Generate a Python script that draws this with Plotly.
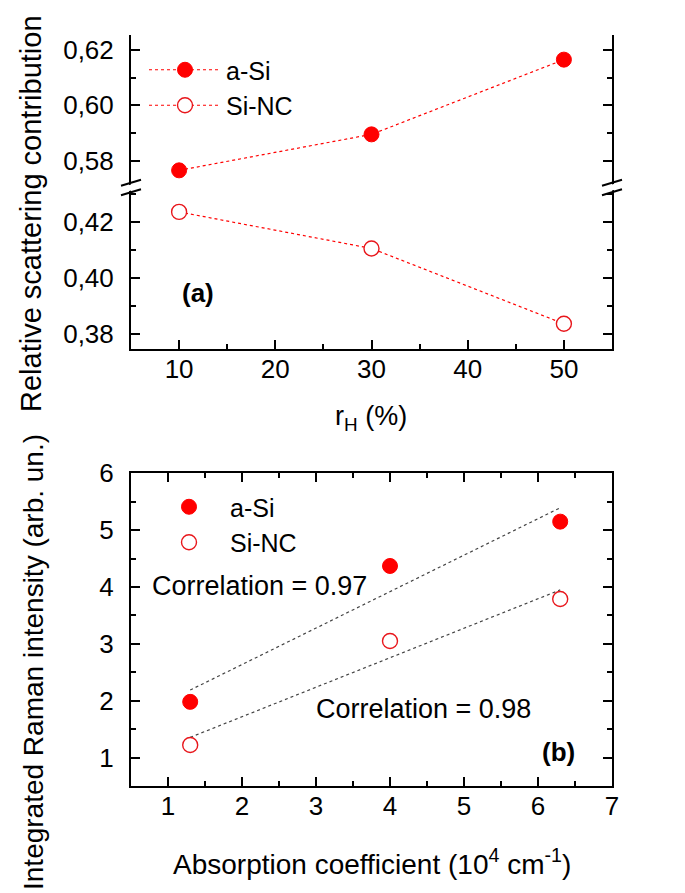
import numpy as np
import plotly.graph_objects as go

W, H = 685, 893


def px(x, y):
    return x / W, 1 - y / H


# ---------------- data ----------------
# Panel (a): relative scattering contribution vs r_H
rh = [10, 30, 50]
asi_a = [0.5765, 0.5895, 0.6165]
sinc_a = [0.4235, 0.4105, 0.3837]

# Panel (b): integrated Raman intensity vs absorption coefficient
alpha = [1.3, 4.0, 6.3]
asi_b = [1.98, 4.37, 5.15]
sinc_b = [1.22, 3.05, 3.79]

series_names = ["a-Si", "Si-NC"]
corr_labels = ["Correlation = 0.97", "Correlation = 0.98"]

xa_ticks = [10, 20, 30, 40, 50]
ya_up_ticks = [0.58, 0.60, 0.62]
ya_lo_ticks = [0.38, 0.40, 0.42]
xb_ticks = [1, 2, 3, 4, 5, 6, 7]
yb_ticks = [1, 2, 3, 4, 5, 6]

# linear fits (panel b)
fit_x = [min(alpha), max(alpha)]
fa = np.polyfit(alpha, asi_b, 1)
fs = np.polyfit(alpha, sinc_b, 1)
fit_asi = list(np.polyval(fa, fit_x))
fit_sinc = list(np.polyval(fs, fit_x))

FONT = "Liberation Sans, Arial, sans-serif"
RED = "#ff0000"

# ---------------- geometry ----------------
xl, xr = 131, 612
a_top, a_brk, a_bot = 35, 190, 348.5
b_top, b_bot = 473.3, 786

x_dom = [xl / W, xr / W]
ya_up_dom = [1 - a_brk / H, 1 - a_top / H]
ya_lo_dom = [1 - a_bot / H, 1 - a_brk / H]
yb_dom = [1 - b_bot / H, 1 - b_top / H]

fig = go.Figure()

# panel (a)
fig.add_trace(go.Scatter(
    x=rh, y=asi_a, name=series_names[0], xaxis="x", yaxis="y2",
    mode="lines+markers", legend="legend",
    line=dict(color=RED, width=1.2, dash="dot"),
    marker=dict(symbol="circle", size=15, color=RED, line=dict(color=RED, width=1))))
fig.add_trace(go.Scatter(
    x=rh, y=sinc_a, name=series_names[1], xaxis="x", yaxis="y",
    mode="lines+markers", legend="legend",
    line=dict(color=RED, width=1.2, dash="dot"),
    marker=dict(symbol="circle", size=15, color="white", line=dict(color="#e8161b", width=1.4))))

# panel (b)
fig.add_trace(go.Scatter(
    x=fit_x, y=fit_asi, xaxis="x3", yaxis="y3", mode="lines", showlegend=False,
    line=dict(color="#444444", width=1.2, dash="dot")))
fig.add_trace(go.Scatter(
    x=fit_x, y=fit_sinc, xaxis="x3", yaxis="y3", mode="lines", showlegend=False,
    line=dict(color="#444444", width=1.2, dash="dot")))
fig.add_trace(go.Scatter(
    x=alpha, y=asi_b, name=series_names[0], xaxis="x3", yaxis="y3",
    mode="markers", legend="legend2",
    marker=dict(symbol="circle", size=15, color=RED, line=dict(color=RED, width=1))))
fig.add_trace(go.Scatter(
    x=alpha, y=sinc_b, name=series_names[1], xaxis="x3", yaxis="y3",
    mode="markers", legend="legend2",
    marker=dict(symbol="circle", size=15, color="white", line=dict(color="#e8161b", width=1.4))))

tickfont = dict(family=FONT, size=26, color="black")
common = dict(showline=True, linecolor="black", linewidth=2, ticks="inside",
              ticklen=9, tickwidth=2, tickcolor="black", showgrid=False,
              zeroline=False, tickfont=tickfont, automargin=False,
              minor=dict(ticks="inside", ticklen=5, tickwidth=2,
                         tickcolor="black", showgrid=False))

fig.update_layout(
    template="none",
    width=W, height=H, margin=dict(l=0, r=0, t=0, b=0, pad=0, autoexpand=False),
    paper_bgcolor="white", plot_bgcolor="white",
    separators=",.",
    font=dict(family=FONT, color="black"),
    xaxis=dict(common, domain=x_dom, anchor="y", range=[5, 55],
               tickvals=xa_ticks, minor=dict(common["minor"], dtick=5, tick0=5),
               mirror=False, ticklabelstandoff=-4),
    xaxis2=dict(common, domain=x_dom, anchor="y2", overlaying="x", side="top",
                range=[5, 55], tickvals=xa_ticks, showticklabels=False,
                minor=dict(common["minor"], dtick=5, tick0=5), mirror=False),
    yaxis=dict(common, domain=ya_lo_dom, anchor="x", range=[0.3749, 0.4313],
               tickvals=ya_lo_ticks, tickformat=".2f", mirror="allticks",
               minor=dict(common["minor"], dtick=0.01, tick0=0.37),
               ticklabelstandoff=10),
    yaxis2=dict(common, domain=ya_up_dom, anchor="x", range=[0.5694, 0.6254],
                tickvals=ya_up_ticks, tickformat=".2f", mirror="allticks",
                minor=dict(common["minor"], dtick=0.01, tick0=0.57),
                ticklabelstandoff=10),
    xaxis3=dict(common, domain=x_dom, anchor="y3", range=[0.5, 7],
                tickvals=xb_ticks, mirror="allticks",
                minor=dict(common["minor"], dtick=0.5, tick0=0.5),
                ticklabelstandoff=-4),
    yaxis3=dict(common, domain=yb_dom, anchor="x3", range=[0.5, 6],
                tickvals=yb_ticks, mirror="allticks",
                minor=dict(common["minor"], dtick=0.5, tick0=0.5),
                ticklabelstandoff=10),
    legend=dict(x=px(144, 0)[0], y=px(0, 47)[1], xanchor="left", yanchor="top",
                bgcolor="rgba(0,0,0,0)", font=dict(family=FONT, size=25),
                itemwidth=72, tracegroupgap=0),
    legend2=dict(x=px(148, 0)[0], y=px(0, 484)[1], xanchor="left", yanchor="top",
                 bgcolor="rgba(0,0,0,0)", font=dict(family=FONT, size=25),
                 itemwidth=72, tracegroupgap=0),
)

ann = []


def add_text(text, x, y, size=27, xanchor="center", angle=0, bold=False):
    ax, ay = px(x, y)
    ann.append(dict(text=f"<b>{text}</b>" if bold else text, x=ax, y=ay,
                    xref="paper", yref="paper", xanchor=xanchor, yanchor="middle",
                    showarrow=False, textangle=angle,
                    font=dict(family=FONT, size=size, color="black")))


add_text("Relative scattering contribution", 31, 214, size=29, angle=-90)
add_text("r<sub>H</sub> (%)", 371, 418, size=27)
add_text("(a)", 198, 293, size=26, bold=True)
add_text("Integrated Raman intensity (arb. un.)", 33, 662, size=28, angle=-90)
add_text("Absorption coefficient (10<sup>4</sup> cm<sup>-1</sup>)", 372, 862, size=28)
add_text(corr_labels[0], 150, 586, size=27, xanchor="left")
add_text(corr_labels[1], 314, 709, size=27, xanchor="left")
add_text("(b)", 558, 752, size=26, bold=True)
fig.update_layout(annotations=ann)

# axis-break marks
shapes = []
for cx in (xl, xr):
    cy = a_brk
    x0, x1 = (cx - 10) / W, (cx + 10) / W
    ya0, ya1 = 1 - (cy + 3.5) / H, 1 - (cy - 2.5) / H
    yb0, yb1 = 1 - (cy - 2.5) / H, 1 - (cy - 8.5) / H
    shapes.append(dict(type="path", xref="paper", yref="paper",
                       path=f"M {x0} {ya0} L {x1} {ya1} L {x1} {yb1} L {x0} {yb0} Z",
                       fillcolor="white", line=dict(width=0), layer="above"))
    shapes.append(dict(type="line", xref="paper", yref="paper", x0=x0, y0=ya0 - 0.002,
                       x1=x1, y1=ya1 - 0.002, line=dict(color="black", width=2)))
    shapes.append(dict(type="line", xref="paper", yref="paper", x0=x0, y0=yb0 + 0.002,
                       x1=x1, y1=yb1 + 0.002, line=dict(color="black", width=2)))
fig.update_layout(shapes=shapes)

fig.write_html("out.html", config={"displayModeBar": False},
               post_script="document.body.style.margin='0';document.body.style.overflow='hidden';")
